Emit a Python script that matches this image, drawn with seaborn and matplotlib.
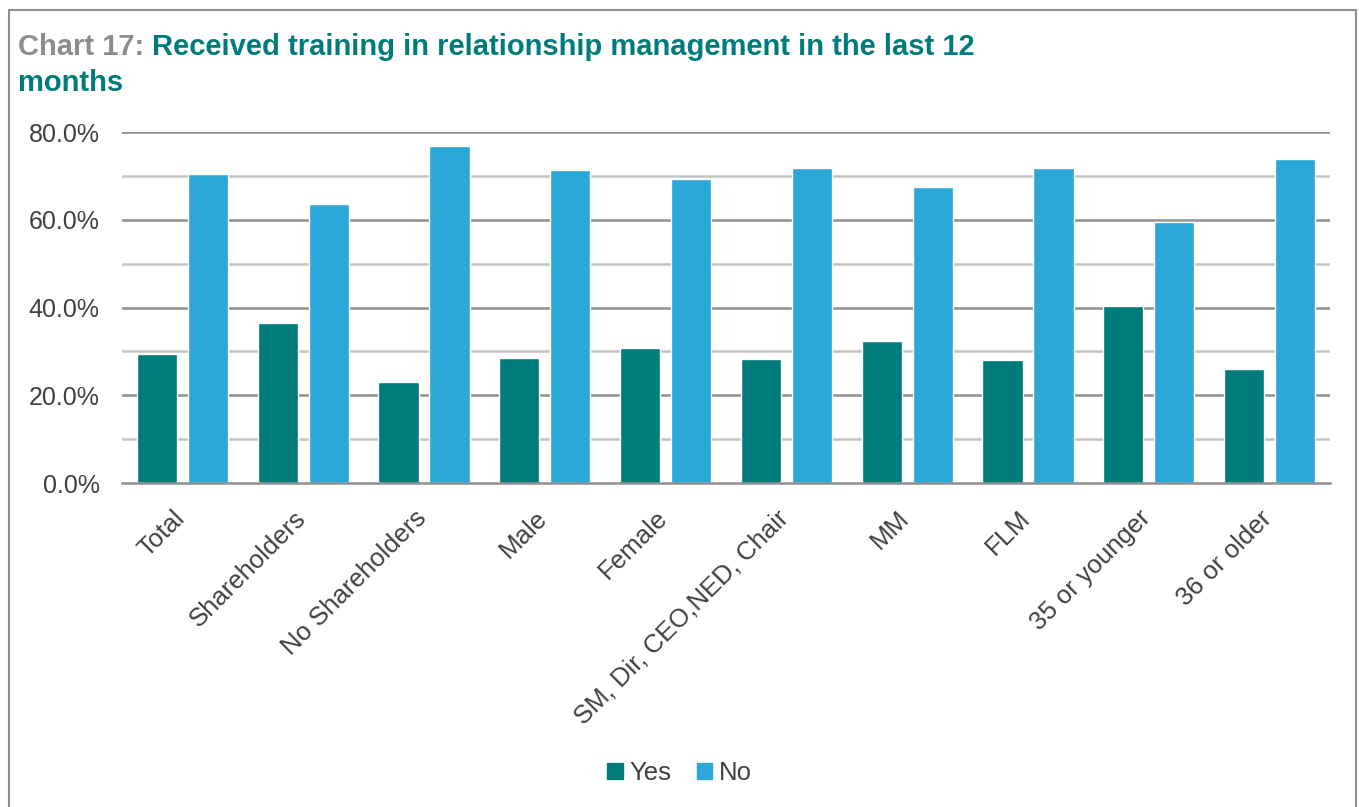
import pandas as pd
import matplotlib.pyplot as plt
import matplotlib.patches as mpatches
import matplotlib.transforms as mtransforms
from matplotlib.ticker import FuncFormatter, MultipleLocator
import seaborn as sns

# Chart data (in %)
categories = ["Total", "Shareholders", "No Shareholders", "Male", "Female",
              "SM, Dir, CEO,NED, Chair", "MM", "FLM", "35 or younger", "36 or older"]
yes_values = [29.3, 36.4, 23.1, 28.5, 30.7, 28.2, 32.4, 28.1, 40.3, 26.0]
no_values = [70.5, 63.6, 76.8, 71.4, 69.2, 71.7, 67.4, 71.8, 59.5, 73.9]
series_names = ["Yes", "No"]

teal = "#007b7b"
blue = "#2ba8d8"
text_grey = "#404040"

df = pd.DataFrame({"Category": categories, "Yes": yes_values, "No": no_values})
long_df = df.melt(id_vars="Category", value_vars=series_names,
                  var_name="Answer", value_name="Percent")

sns.set_theme(style="white")
plt.rcParams["font.family"] = ["Liberation Sans", "DejaVu Sans"]

fig = plt.figure(figsize=(13.59, 8.07), dpi=100)
ax = fig.add_axes([122 / 1359, 1 - 483 / 807, (1330 - 122) / 1359, (483 - 132) / 807])

sns.barplot(data=long_df, x="Category", y="Percent", hue="Answer",
            hue_order=series_names, palette=[teal, blue], order=categories,
            width=0.845, gap=0.21, saturation=1, ax=ax, legend=False)

ax.set_ylim(0, 80)
ax.set_xlim(-0.5, len(categories) - 0.5)
ax.yaxis.set_major_locator(MultipleLocator(20))
ax.yaxis.set_major_formatter(FuncFormatter(lambda v, p: f"{v:.1f}%"))
ax.set_xlabel("")
ax.set_ylabel("")

# gridlines: darker at labelled values, lighter in between
for v in [10, 30, 50, 70]:
    ax.axhline(v, color="#c4c4c4", lw=1.8, zorder=0)
for v in [20, 40, 60, 80]:
    ax.axhline(v, color="#8f8f8f", lw=1.8, zorder=0)

for s in ["top", "right", "left"]:
    ax.spines[s].set_visible(False)
ax.spines["bottom"].set_color("#8f8f8f")
ax.spines["bottom"].set_linewidth(1.8)

ax.tick_params(axis="y", length=0, pad=16, labelsize=18, labelcolor=text_grey)
ax.tick_params(axis="x", length=0, pad=8, labelsize=18.5, labelcolor=text_grey)
shift = mtransforms.ScaledTranslation(-10 / 100, -12 / 100, fig.dpi_scale_trans)
for lab in ax.get_xticklabels():
    lab.set_rotation(45)
    lab.set_ha("right")
    lab.set_rotation_mode("anchor")
    lab.set_transform(lab.get_transform() + shift)

# title in two colours
title_size = 21
fig.text(18 / 1359, 1 - 55 / 807, "Chart 17:", color="#8c8c8c",
         fontsize=title_size, fontweight="bold", va="baseline")
fig.text(152 / 1359, 1 - 55 / 807,
         "Received training in relationship management in the last 12",
         color=teal, fontsize=title_size, fontweight="bold", va="baseline")
fig.text(18 / 1359, 1 - 91 / 807, "months", color=teal,
         fontsize=title_size, fontweight="bold", va="baseline")

# legend
handles = [mpatches.Patch(color=teal, label="Yes"), mpatches.Patch(color=blue, label="No")]
fig.legend(handles=handles, loc="center", bbox_to_anchor=(0.5, 1 - 773 / 807),
           ncol=2, frameon=False, fontsize=18.5, handlelength=0.6, handleheight=0.6,
           handletextpad=0.25, columnspacing=1.0, labelcolor=text_grey)

# outer frame
frame = mpatches.Rectangle((9 / 1359, -0.05), (1356 - 9) / 1359, 1.05 - 10 / 807,
                           transform=fig.transFigure, fill=False,
                           edgecolor="#8f8f8f", lw=1.5)
fig.patches.append(frame)

fig.savefig("out.png", dpi=100)
